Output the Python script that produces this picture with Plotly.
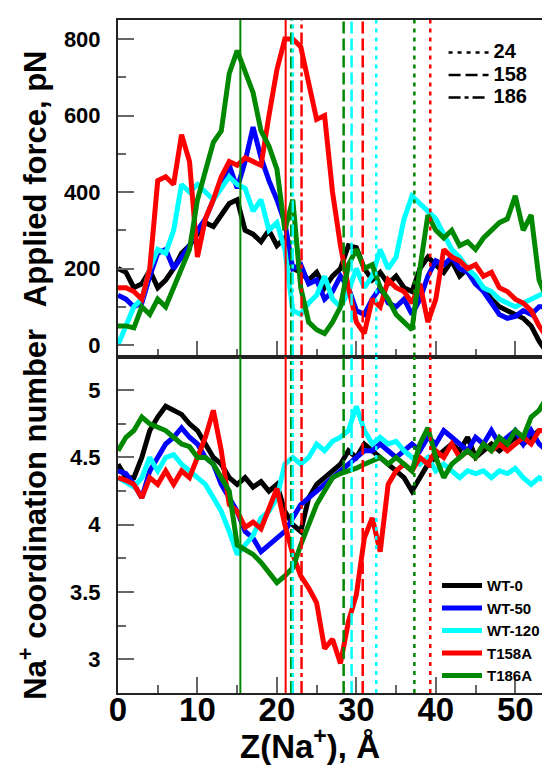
import plotly.graph_objects as go
from plotly.subplots import make_subplots

# ---------------- data ----------------
z = list(range(0, 56))  # Z(Na+), Å

series_names = ["WT-0", "WT-50", "WT-120", "T158A", "T186A"]
series_colors = ["#000000", "#0000ff", "#00ffff", "#ff0000", "#008800"]

force_wt0 = [200, 190, 150, 160, 195, 150, 170, 200, 240, 260, 290, 320, 310, 340, 370, 380,
             300, 290, 270, 300, 260, 280, 200, 190, 170, 190, 150, 180, 200, 260, 255, 200,
             170, 190, 160, 180, 150, 140, 200, 230, 210, 190, 220, 180, 200, 160, 150, 120,
             100, 90, 80, 70, 50, 10, -20, -25]
force_wt50 = [130, 120, 100, 110, 180, 240, 250, 200, 230, 260, 300, 330, 380, 420, 470, 410,
              480, 570, 490, 430, 380, 320, 200, 210, 160, 170, 120, 140, 180, 150, 90, 80,
              120, 150, 110, 100, 120, 80, 120, 180, 220, 210, 230, 200, 190, 160, 140, 110,
              80, 70, 75, 90, 80, 100, 100, 115]
force_wt120 = [0, 50, 100, 120, 200, 250, 240, 300, 420, 400, 420, 400, 380, 410, 440, 420,
               410, 350, 380, 300, 320, 250, 90, 80, 110, 130, 180, 120, 100, 140, 200, 150,
               180, 250, 200, 230, 330, 390, 370, 350, 330, 290, 250, 230, 200, 180, 150, 140,
               120, 110, 100, 110, 120, 130, 140, 150]
force_t158a = [150, 150, 140, 120, 200, 430, 440, 420, 550, 480, 230, 330, 380, 440, 480, 470,
               490, 480, 470, 600, 720, 800, 800, 780, 690, 590, 600, 400, 260, 150, 60, 30,
               120, 100, 170, 150, 140, 110, 160, 60, 120, 250, 230, 220, 200, 210, 180, 190,
               150, 140, 120, 110, 90, 50, 20, 0]
force_t186a = [50, 50, 45, 100, 80, 120, 100, 150, 200, 250, 380, 450, 530, 560, 710, 770,
               710, 660, 560, 520, 460, 300, 380, 150, 60, 40, 30, 60, 100, 210, 250, 200,
               210, 150, 120, 80, 60, 40, 200, 340, 300, 280, 300, 260, 270, 250, 280, 300,
               320, 330, 390, 300, 340, 170, 120, 120]

coord_wt0 = [4.45, 4.35, 4.35, 4.5, 4.7, 4.8, 4.88, 4.85, 4.82, 4.75, 4.7, 4.6, 4.5, 4.45, 4.35, 4.3,
             4.35, 4.28, 4.32, 4.25, 4.3, 4.1, 4.0, 3.95, 4.2, 4.3, 4.35, 4.4, 4.45, 4.55, 4.5, 4.6,
             4.55, 4.5, 4.45, 4.4, 4.35, 4.25, 4.35, 4.45, 4.5, 4.55, 4.6, 4.55, 4.65, 4.5, 4.55, 4.6,
             4.55, 4.6, 4.65, 4.6, 4.65, 4.7, 4.7, 4.68]
coord_wt50 = [4.4, 4.38, 4.3, 4.2, 4.4, 4.5, 4.6, 4.65, 4.72, 4.65, 4.6, 4.5, 4.45, 4.3, 4.2, 4.1,
              3.95, 3.9, 3.8, 3.85, 3.9, 3.95, 4.05, 4.15, 4.2, 4.25, 4.3, 4.35, 4.4, 4.45, 4.5, 4.55,
              4.55, 4.6, 4.55, 4.5, 4.55, 4.6, 4.55, 4.65, 4.6, 4.7, 4.65, 4.6, 4.55, 4.65, 4.6, 4.7,
              4.6, 4.65, 4.7, 4.6, 4.7, 4.6, 4.55, 4.55]
coord_wt120 = [4.35, 4.32, 4.28, 4.35, 4.5, 4.4, 4.5, 4.52, 4.45, 4.4, 4.35, 4.3, 4.2, 4.1, 3.95, 3.78,
               3.85, 3.92, 4.05, 4.1, 4.2, 4.45, 4.5, 4.45, 4.5, 4.6, 4.55, 4.62, 4.65, 4.7, 4.88, 4.7,
               4.6, 4.65, 4.6, 4.62, 4.55, 4.5, 4.45, 4.5, 4.4, 4.45, 4.4, 4.35, 4.4, 4.38, 4.4, 4.35,
               4.4, 4.38, 4.42, 4.35, 4.3, 4.35, 4.32, 4.3]
coord_t158a = [4.35, 4.33, 4.3, 4.2, 4.35, 4.3, 4.4, 4.3, 4.4, 4.35, 4.5, 4.65, 4.85, 4.55, 4.15, 4.1,
               3.98, 4.02, 3.97, 4.12, 4.27, 4.0, 3.78, 3.62, 3.53, 3.42, 3.08, 3.15, 2.97, 3.28, 3.48, 3.9,
               4.05, 3.8, 4.3, 4.4, 4.45, 4.4, 4.5, 4.45, 4.55, 4.5, 4.6, 4.5, 4.55, 4.5, 4.6, 4.55,
               4.6, 4.55, 4.6, 4.65, 4.6, 4.7, 4.7, 4.7]
coord_t186a = [4.55, 4.65, 4.7, 4.8, 4.75, 4.72, 4.7, 4.65, 4.6, 4.58, 4.5, 4.5, 4.45, 4.35, 4.25, 3.85,
               3.82, 3.78, 3.72, 3.65, 3.57, 3.62, 3.68, 3.85, 4.0, 4.15, 4.25, 4.35, 4.38, 4.4, 4.42, 4.45,
               4.48, 4.5, 4.45, 4.5, 4.45, 4.4, 4.6, 4.72, 4.5, 4.35, 4.45, 4.5, 4.55, 4.5, 4.6, 4.55,
               4.65, 4.6, 4.7, 4.65, 4.8, 4.85, 4.95, 4.95]

force_series = [force_wt0, force_wt50, force_wt120, force_t158a, force_t186a]
coord_series = [coord_wt0, coord_wt50, coord_wt120, coord_t158a, coord_t186a]

# vertical marker lines (Z position, colour, style)
vline_pos = [15.4, 21.1, 21.8, 22.0, 23.1, 28.4, 29.4, 30.8, 32.5, 37.3, 39.3]
vline_color = ["#008800", "#ff0000", "#008800", "#00ffff", "#ff0000",
               "#008800", "#00ffff", "#ff0000", "#00ffff", "#008800", "#ff0000"]
vline_style = ["solid", "solid", "dashdot", "dashdot", "dashdot",
               "dash", "dash", "dash", "dot", "dot", "dot"]

style_labels = ["24", "158", "186"]
style_kinds = ["dot", "dash", "dashdot"]

force_range = [-30, 850]
coord_range = [2.75, 5.25]
x_range = [0, 55]

# ---------------- figure ----------------
dash_map = {"solid": "solid", "dot": "4px,5px", "dash": "12px,5px", "dashdot": "12px,4px,4px,4px"}

fig = make_subplots(rows=2, cols=1, shared_xaxes=True, vertical_spacing=0)

for name, col, fy, cy in zip(series_names, series_colors, force_series, coord_series):
    fig.add_trace(go.Scatter(x=z, y=fy, mode="lines", name=name, showlegend=False,
                             line=dict(color=col, width=5)), row=1, col=1)
    fig.add_trace(go.Scatter(x=z, y=cy, mode="lines", name=name, legend="legend",
                             line=dict(color=col, width=5)), row=2, col=1)

for pos, col, sty in zip(vline_pos, vline_color, vline_style):
    w = 2 if sty == "solid" else 2.5
    fig.add_trace(go.Scatter(x=[pos, pos], y=force_range, mode="lines", showlegend=False,
                             line=dict(color=col, width=w, dash=dash_map[sty])), row=1, col=1)
    fig.add_trace(go.Scatter(x=[pos, pos], y=coord_range, mode="lines", showlegend=False,
                             line=dict(color=col, width=w, dash=dash_map[sty])), row=2, col=1)

for lab, kind in zip(style_labels, style_kinds):
    fig.add_trace(go.Scatter(x=[None], y=[None], mode="lines",
                             name='<span style="font-size:20px">' + lab + '</span>',
                             legend="legend2",
                             line=dict(color="#000000", width=2.5, dash=dash_map[kind])), row=1, col=1)

FONT = "Liberation Sans, Arial, Helvetica, sans-serif"

axis_common = dict(showline=True, mirror=True, linecolor="#222222", linewidth=2,
                   showgrid=False, zeroline=False, ticks="inside", ticklen=16,
                   tickcolor="#666666", tickwidth=1.5)

fig.update_xaxes(range=x_range, dtick=10, tick0=0,
                 minor=dict(dtick=5, ticklen=8, tickcolor="#666666", tickwidth=1.5, ticks="inside"),
                 **axis_common)
fig.update_xaxes(showticklabels=False, row=1, col=1)
fig.update_xaxes(showticklabels=True, ticklabelstandoff=-14,
                 tickfont=dict(family=FONT, size=33, color="#000000", weight="bold"), row=2, col=1)

fig.update_yaxes(range=force_range, dtick=200, tick0=0,
                 minor=dict(dtick=100, ticklen=8, tickcolor="#666666", tickwidth=1.5, ticks="inside"),
                 tickfont=dict(family=FONT, size=22, color="#000000", weight="bold"),
                 ticklabelstandoff=11, row=1, col=1, **axis_common)
fig.update_yaxes(range=coord_range, dtick=0.5, tick0=0,
                 minor=dict(dtick=0.25, ticklen=8, tickcolor="#666666", tickwidth=1.5, ticks="inside"),
                 tickfont=dict(family=FONT, size=22, color="#000000", weight="bold"),
                 ticklabelstandoff=11, row=2, col=1, **axis_common)

fig.update_layout(
    width=550, height=765,
    margin=dict(l=110, r=1, t=12, b=80),
    paper_bgcolor="white", plot_bgcolor="white",
    font=dict(family=FONT, color="#000000"),
    legend=dict(x=0.73, xanchor="left", y=0.184, yanchor="top", bgcolor="rgba(0,0,0,0)",
                font=dict(family=FONT, size=15, color="#000000", weight="bold"),
                itemwidth=40, tracegroupgap=0),
    legend2=dict(x=0.745, xanchor="left", y=0.976, yanchor="top", bgcolor="rgba(0,0,0,0)",
                 font=dict(family=FONT, size=15, color="#000000", weight="bold"),
                 itemwidth=40),
    annotations=[
        dict(text="Applied force, pN", textangle=-90, xref="paper", yref="paper",
             x=-0.19, y=0.765, xanchor="center", yanchor="middle", showarrow=False,
             font=dict(family=FONT, size=31, color="#000000", weight="bold")),
        dict(text="Na<sup>+</sup> coordination number", textangle=-90, xref="paper", yref="paper",
             x=-0.195, y=0.266, xanchor="center", yanchor="middle", showarrow=False,
             font=dict(family=FONT, size=31, color="#000000", weight="bold")),
        dict(text="Z(Na<sup>+</sup>), Å", xref="paper", yref="paper",
             x=0.44, y=-0.076, xanchor="center", yanchor="middle", showarrow=False,
             font=dict(family=FONT, size=33, color="#000000", weight="bold")),
    ],
)

fig.write_html("out.html")
